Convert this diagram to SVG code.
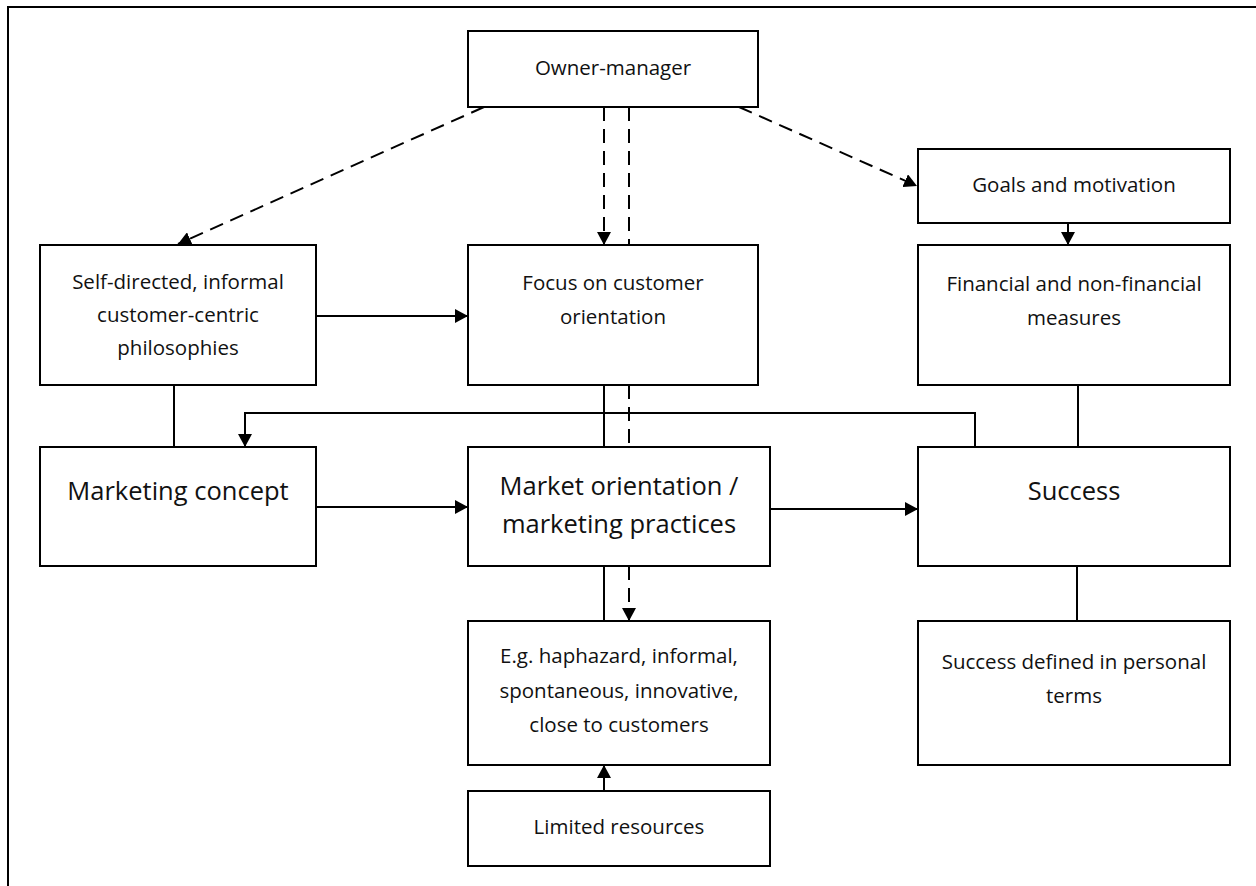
<svg xmlns="http://www.w3.org/2000/svg" width="1256" height="886" viewBox="0 0 1256 886">
<style>
.box{fill:#fff;stroke:#000;stroke-width:2}
.t{font-family:"Open Sans","Liberation Sans",sans-serif;font-size:20.5px;fill:#111;text-anchor:middle}
.big{font-size:25.5px}
.c{fill:none;stroke:#000;stroke-width:2}
.d{stroke-dasharray:14 8}
</style>
<defs>
<marker id="ah" markerUnits="userSpaceOnUse" markerWidth="14" markerHeight="14" refX="13" refY="7" orient="auto">
<path d="M0,0 L13,7 L0,14 z" fill="#000"/>
</marker>
</defs>
<rect x="0" y="0" width="1256" height="886" fill="#fff"/>
<path d="M8,886 L8,7 L1256,7" fill="none" stroke="#000" stroke-width="2"/>
<g id="connectors">
<line class="c d" x1="484" y1="107" x2="178" y2="244" marker-end="url(#ah)"/>
<line class="c d" x1="604" y1="107" x2="604" y2="245" marker-end="url(#ah)"/>
<line class="c d" x1="629" y1="107" x2="629" y2="245"/>
<line class="c d" x1="739" y1="107" x2="917" y2="186" marker-end="url(#ah)"/>
<line class="c" x1="1068" y1="223" x2="1068" y2="245" marker-end="url(#ah)"/>
<line class="c" x1="316" y1="316" x2="468" y2="316" marker-end="url(#ah)"/>
<line class="c" x1="174" y1="385" x2="174" y2="447"/>
<polyline class="c" points="975,447 975,413 245,413 245,447" marker-end="url(#ah)"/>
<line class="c" x1="604" y1="385" x2="604" y2="447"/>
<line class="c d" x1="629" y1="385" x2="629" y2="447"/>
<line class="c" x1="316" y1="507" x2="468" y2="507" marker-end="url(#ah)"/>
<line class="c" x1="770" y1="509" x2="918" y2="509" marker-end="url(#ah)"/>
<line class="c" x1="1078" y1="385" x2="1078" y2="447"/>
<line class="c" x1="1077" y1="566" x2="1077" y2="621"/>
<line class="c" x1="604" y1="566" x2="604" y2="621"/>
<line class="c d" x1="629" y1="566" x2="629" y2="621" marker-end="url(#ah)"/>
<line class="c" x1="604" y1="791" x2="604" y2="765" marker-end="url(#ah)"/>
</g>
<g id="owner-manager">
<rect class="box" x="468" y="31" width="290" height="76"/>
<text class="t" x="613" y="75">Owner-manager</text>
</g>
<g id="self-directed">
<rect class="box" x="40" y="245" width="276" height="140"/>
<text class="t" x="178" y="289">Self-directed, informal</text>
<text class="t" x="178" y="322">customer-centric</text>
<text class="t" x="178" y="355">philosophies</text>
</g>
<g id="focus">
<rect class="box" x="468" y="245" width="290" height="140"/>
<text class="t" x="613" y="290">Focus on customer</text>
<text class="t" x="613" y="324">orientation</text>
</g>
<g id="goals">
<rect class="box" x="918" y="149" width="312" height="74"/>
<text class="t" x="1074" y="192">Goals and motivation</text>
</g>
<g id="financial">
<rect class="box" x="918" y="245" width="312" height="140"/>
<text class="t" x="1074" y="291">Financial and non-financial</text>
<text class="t" x="1074" y="325">measures</text>
</g>
<g id="marketing-concept">
<rect class="box" x="40" y="447" width="276" height="119"/>
<text class="t big" x="178" y="500">Marketing concept</text>
</g>
<g id="market-orientation">
<rect class="box" x="468" y="447" width="302" height="119"/>
<text class="t big" x="619" y="495">Market orientation /</text>
<text class="t big" x="619" y="533">marketing practices</text>
</g>
<g id="success">
<rect class="box" x="918" y="447" width="312" height="119"/>
<text class="t big" x="1074" y="500">Success</text>
</g>
<g id="eg">
<rect class="box" x="468" y="621" width="302" height="144"/>
<text class="t" x="619" y="663">E.g. haphazard, informal,</text>
<text class="t" x="619" y="698">spontaneous, innovative,</text>
<text class="t" x="619" y="732">close to customers</text>
</g>
<g id="limited">
<rect class="box" x="468" y="791" width="302" height="75"/>
<text class="t" x="619" y="834">Limited resources</text>
</g>
<g id="success-defined">
<rect class="box" x="918" y="621" width="312" height="144"/>
<text class="t" x="1074" y="669">Success defined in personal</text>
<text class="t" x="1074" y="703">terms</text>
</g>
</svg>
